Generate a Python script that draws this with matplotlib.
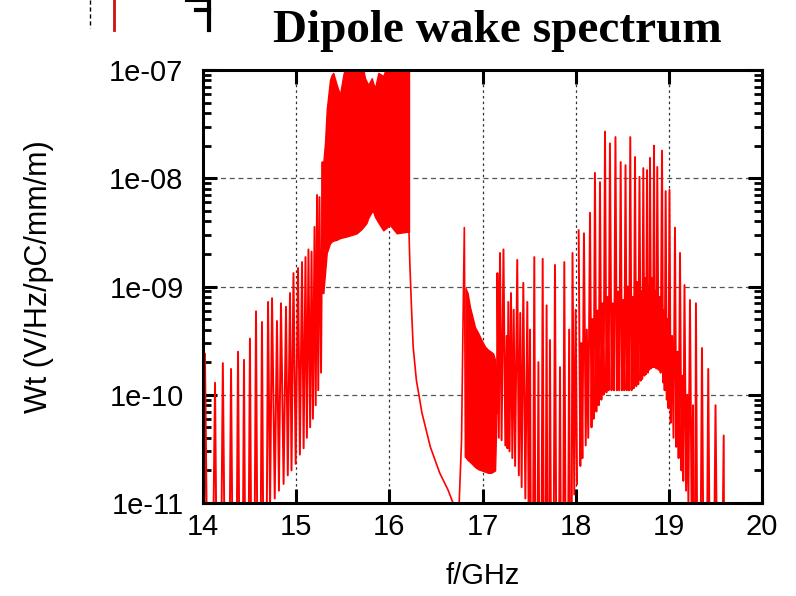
import matplotlib
matplotlib.use("Agg")
import matplotlib.pyplot as plt
from matplotlib.lines import Line2D
from matplotlib.ticker import LogLocator, FixedLocator, FixedFormatter, NullFormatter

# ---------------- data ----------------
# low-frequency comb 14.0 - 15.29 GHz (alternating trough / peak)
comb1_f = [14.000, 14.021, 14.075, 14.129, 14.170, 14.213, 14.260, 14.301, 14.340, 14.376,
           14.410, 14.440, 14.470, 14.504, 14.535, 14.569, 14.600, 14.633, 14.665, 14.698,
           14.720, 14.741, 14.770, 14.794, 14.815, 14.837, 14.865, 14.891, 14.910, 14.934,
           14.950, 14.971, 14.995, 15.020, 15.040, 15.063, 15.080, 15.100, 15.115, 15.132,
           15.150, 15.165, 15.180, 15.197, 15.210, 15.224, 15.237, 15.250, 15.267, 15.283,
           15.291]
comb1_W = [1e-14, 2.4e-10, 1e-14, 1.29e-10, 1e-14, 1.96e-10, 1e-14, 1.73e-10, 1e-14, 2.5e-10,
           1e-14, 2.1e-10, 1e-14, 3.3e-10, 1e-14, 5.9e-10, 1e-14, 4.7e-10, 1e-14, 7.2e-10,
           9e-12, 7.8e-10, 1.1e-11, 4.8e-10, 1.3e-11, 7.0e-10, 1.5e-11, 6.5e-10, 1.8e-11, 8.7e-10,
           2.0e-11, 1.33e-9, 2.3e-11, 1.48e-9, 2.8e-11, 1.68e-9, 3.2e-11, 1.87e-9, 4.0e-11, 2.2e-9,
           5.0e-11, 2.1e-9, 6.0e-11, 3.55e-9, 8.0e-11, 7.0e-9, 1.1e-10, 6.7e-9, 1.6e-10, 1.41e-8,
           8.7e-10]

# dense band 15.29 - 16.21 GHz (lower / upper envelope)
band1_f = [15.291, 15.309, 15.328, 15.363, 15.381, 15.398, 15.435, 15.470, 15.506, 15.542,
           15.600, 15.650, 15.703, 15.739, 15.757, 15.774, 15.811, 15.828, 15.846, 15.882,
           15.935, 15.989, 16.007, 16.079, 16.186, 16.211]
band1_hi = [1.4e-8, 2.1e-8, 4.3e-8, 8.1e-8, 9.0e-8, 9.4e-8, 7.3e-8, 5.9e-8, 9.0e-8, 1.2e-7,
            1.2e-7, 1.2e-7, 1.2e-7, 8.4e-8, 7.8e-8, 7.3e-8, 8.4e-8, 7.5e-8, 6.8e-8, 9.4e-8,
            8.8e-8, 1.2e-7, 1.2e-7, 1.2e-7, 1.2e-7, 1.2e-7]
band1_lo = [8.7e-10, 1.3e-9, 2.04e-9, 2.5e-9, 2.6e-9, 2.65e-9, 2.7e-9, 2.8e-9, 2.85e-9, 2.9e-9,
            3.0e-9, 3.1e-9, 3.4e-9, 3.7e-9, 3.9e-9, 4.3e-9, 4.9e-9, 4.9e-9, 4.4e-9, 3.9e-9,
            3.3e-9, 3.6e-9, 3.7e-9, 3.1e-9, 3.2e-9, 3.2e-9]

# smooth decay between the bands
decay_f = [16.211, 16.220, 16.240, 16.256, 16.290, 16.350, 16.440, 16.540, 16.630, 16.680,
           16.720, 16.750, 16.775, 16.790, 16.805, 16.817]
decay_W = [3.2e-9, 1.65e-9, 5.7e-10, 2.76e-10, 1.37e-10, 6.8e-11, 3.3e-11, 1.9e-11, 1.32e-11, 1.02e-11,
           8.0e-12, 1.02e-11, 3.8e-11, 4.0e-10, 3.5e-9, 2.66e-11]

# dense band 16.82 - 17.15 GHz
band2_f = [16.817, 16.840, 16.865, 16.920, 16.955, 16.990, 17.025, 17.060, 17.090, 17.115,
           17.135, 17.150]
band2_hi = [9.7e-10, 8.7e-10, 6.5e-10, 4.2e-10, 3.7e-10, 3.2e-10, 2.8e-10, 2.6e-10, 2.5e-10, 2.4e-10,
            2.1e-10, 1.5e-10]
band2_lo = [2.66e-11, 2.5e-11, 2.4e-11, 2.15e-11, 2.05e-11, 2.0e-11, 1.95e-11, 1.9e-11, 1.9e-11, 1.95e-11,
            2.0e-11, 6.8e-11]

# comb 17.15 - 18.03 GHz
comb2_f = [17.155, 17.160, 17.175, 17.188, 17.205, 17.225, 17.245, 17.260, 17.268, 17.277,
           17.290, 17.306, 17.320, 17.335, 17.350, 17.373, 17.390, 17.405, 17.420, 17.438,
           17.460, 17.481, 17.495, 17.510, 17.530, 17.556, 17.578, 17.600, 17.622, 17.646,
           17.667, 17.688, 17.705, 17.724, 17.750, 17.778, 17.805, 17.832, 17.855, 17.878,
           17.905, 17.930, 17.948, 17.966, 17.985, 18.000, 18.015]
comb2_W = [6.8e-11, 1.33e-9, 4.0e-11, 2.04e-9, 3.8e-11, 2.2e-9, 3.4e-11, 3.5e-10, 3.2e-11, 7.2e-10,
           3.0e-11, 8.7e-10, 2.6e-11, 6.1e-10, 2.2e-11, 1.76e-9, 1.8e-11, 5.7e-10, 1.4e-11, 1.08e-9,
           1.1e-11, 7.2e-10, 8e-12, 4.0e-10, 1e-14, 1.87e-9, 1e-14, 2.0e-10, 1e-14, 1.8e-9,
           1e-14, 6.7e-10, 1e-14, 3.2e-10, 1e-14, 1.58e-9, 1e-14, 1.8e-10, 1e-14, 1.68e-9,
           1e-14, 4.0e-10, 1e-14, 2.04e-9, 1.2e-11, 6.1e-10, 1.5e-11]

# comb 18.03 - 19.6 GHz
comb3_f = [18.032, 18.050, 18.060, 18.072, 18.089, 18.108, 18.120, 18.135, 18.154, 18.170,
           18.180, 18.193, 18.207, 18.222, 18.234, 18.247, 18.261, 18.276, 18.288, 18.300,
           18.315, 18.330, 18.342, 18.354, 18.368, 18.385, 18.398, 18.412, 18.427, 18.442,
           18.455, 18.468, 18.483, 18.497, 18.510, 18.522, 18.535, 18.548, 18.560, 18.573,
           18.586, 18.600, 18.612, 18.624, 18.637, 18.650, 18.660, 18.672, 18.685, 18.698,
           18.705, 18.714, 18.726, 18.738, 18.746, 18.755, 18.766, 18.776, 18.784, 18.790,
           18.798, 18.810, 18.820, 18.830, 18.841, 18.850, 18.858, 18.866, 18.876, 18.890,
           18.900, 18.912, 18.927, 18.938, 18.946, 18.955, 18.966, 18.978, 18.987, 18.996,
           19.007, 19.020, 19.035, 19.050, 19.066, 19.080, 19.093, 19.105, 19.120, 19.135,
           19.145, 19.155, 19.168, 19.185, 19.198, 19.210, 19.227, 19.245, 19.260, 19.275,
           19.291, 19.320, 19.356, 19.390, 19.423, 19.460, 19.501, 19.545, 19.589, 19.600]
comb3_W = [3.3e-9, 2.2e-11, 3.0e-10, 2.6e-11, 3.1e-9, 3.4e-11, 4.0e-10, 4.0e-11, 4.8e-9, 5.0e-11,
           5.0e-10, 6.0e-11, 1.12e-8, 7.0e-11, 6.0e-10, 8.0e-11, 9.2e-9, 9.0e-11, 7.0e-10, 1.0e-10,
           2.7e-8, 1.05e-10, 8.0e-10, 1.1e-10, 2.1e-8, 1.1e-10, 7.0e-10, 1.1e-10, 2.4e-8, 1.1e-10,
           9.0e-10, 1.1e-10, 1.41e-8, 1.1e-10, 7.5e-10, 1.1e-10, 1.32e-8, 1.1e-10, 1.0e-9, 1.1e-10,
           2.4e-8, 1.1e-10, 8.0e-10, 1.15e-10, 1.57e-8, 1.2e-10, 1.1e-9, 1.25e-10, 1.03e-8, 1.35e-10,
           9.0e-10, 1.4e-10, 1.24e-8, 1.5e-10, 1.2e-9, 1.55e-10, 1.19e-8, 1.6e-10, 1.0e-9, 1.7e-10,
           1.54e-8, 1.75e-10, 1.2e-9, 1.8e-10, 2.0e-8, 1.8e-10, 9.0e-10, 1.75e-10, 1.27e-8, 1.7e-10,
           8.0e-10, 1.6e-10, 1.8e-8, 1.3e-10, 6.0e-10, 1.1e-10, 7.6e-9, 9.0e-11, 5.0e-10, 7.5e-11,
           7.8e-9, 5.5e-11, 3.5e-10, 4.0e-11, 3.5e-9, 3.3e-11, 2.5e-10, 2.6e-11, 2.04e-9, 2.0e-11,
           1.5e-10, 1.6e-11, 1.03e-9, 1.3e-11, 1.0e-10, 1.0e-11, 7.5e-10, 7e-12, 8.0e-11, 1e-14,
           7.0e-10, 1e-14, 2.7e-10, 1e-14, 1.73e-10, 1e-14, 8.0e-11, 1e-14, 4.2e-11, 1e-14]

x_ticks = [14, 15, 16, 17, 18, 19, 20]
x_tick_labels = ["14", "15", "16", "17", "18", "19", "20"]
y_ticks = [1e-11, 1e-10, 1e-9, 1e-8, 1e-7]
y_tick_labels = ["1e-11", "1e-10", "1e-09", "1e-08", "1e-07"]

title = "Dipole wake spectrum"
xlabel = "f/GHz"
ylabel = "Wt (V/Hz/pC/mm/m)"

# ---------------- figure ----------------
W_PX, H_PX = 796, 596
fig = plt.figure(figsize=(W_PX / 100, H_PX / 100), dpi=100)
ax = fig.add_axes([203 / W_PX, 1 - 503 / H_PX, (762 - 203) / W_PX, (503 - 70) / H_PX])

sans = ["Liberation Sans", "DejaVu Sans"]
serif = ["Liberation Serif", "DejaVu Serif"]

red = "#ff0000"
lw = 1.4
ax.plot(comb1_f, comb1_W, color=red, lw=lw, zorder=3)
ax.fill_between(band1_f, band1_lo, band1_hi, color=red, lw=1.0, edgecolor=red, zorder=3)
ax.plot(decay_f, decay_W, color=red, lw=1.2, zorder=3)
ax.fill_between(band2_f, band2_lo, band2_hi, color=red, lw=1.0, edgecolor=red, zorder=3)
ax.plot(comb2_f, comb2_W, color=red, lw=lw, zorder=3)
ax.plot(comb3_f, comb3_W, color=red, lw=lw, zorder=3)

ax.set_yscale("log")
ax.set_xlim(14, 20)
ax.set_ylim(1e-11, 1e-7)

ax.xaxis.set_major_locator(FixedLocator(x_ticks))
ax.xaxis.set_major_formatter(FixedFormatter(x_tick_labels))
ax.yaxis.set_major_locator(FixedLocator(y_ticks))
ax.yaxis.set_major_formatter(FixedFormatter(y_tick_labels))
ax.yaxis.set_minor_locator(LogLocator(base=10, subs=range(2, 10)))
ax.yaxis.set_minor_formatter(NullFormatter())

for s in ax.spines.values():
    s.set_linewidth(2.2)
    s.set_color("black")
    s.set_zorder(5)

ax.tick_params(which="major", direction="in", length=10, width=2.2, top=True, right=True,
               labelsize=21, colors="black")
ax.tick_params(axis="y", which="major", pad=14)
ax.tick_params(axis="x", which="major", pad=7)
ax.tick_params(which="minor", direction="in", length=5.5, width=2.0, left=True, right=True)
for lab in ax.get_xticklabels() + ax.get_yticklabels():
    lab.set_fontfamily(sans)

ax.xaxis.grid(True, which="major", color="#333333", lw=0.9, ls=(0, (2, 2.5)), zorder=1)
ax.yaxis.grid(True, which="major", color="#555555", lw=0.9, ls=(0, (4, 3)), zorder=1)
ax.set_axisbelow(True)

ax.set_xlabel(xlabel, fontsize=21, family=sans, labelpad=15)
ax.set_ylabel(ylabel, fontsize=22, family=sans, labelpad=40)
ax.yaxis.label.set_y(0.522)

fig.text(497 / W_PX, 1 - 42 / H_PX, title, ha="center", va="baseline",
         fontsize=34, fontweight="bold", family=serif)

# remnants of a neighbouring figure at the top-left corner
def px_line(xs, ys, **kw):
    fig.add_artist(Line2D([x / W_PX for x in xs], [1 - y / H_PX for y in ys],
                          transform=fig.transFigure, **kw))

px_line([90, 90], [0, 28], color="black", lw=1.0, ls=(0, (3, 2)))
px_line([114, 114], [0, 30], color="#cc1111", lw=2.0)
px_line([209, 209], [0, 30], color="black", lw=3.0)
px_line([196, 209], [10, 10], color="black", lw=3.0)
px_line([186, 209], [0.5, 0.5], color="black", lw=1.5)

fig.savefig("out.png", dpi=100)
